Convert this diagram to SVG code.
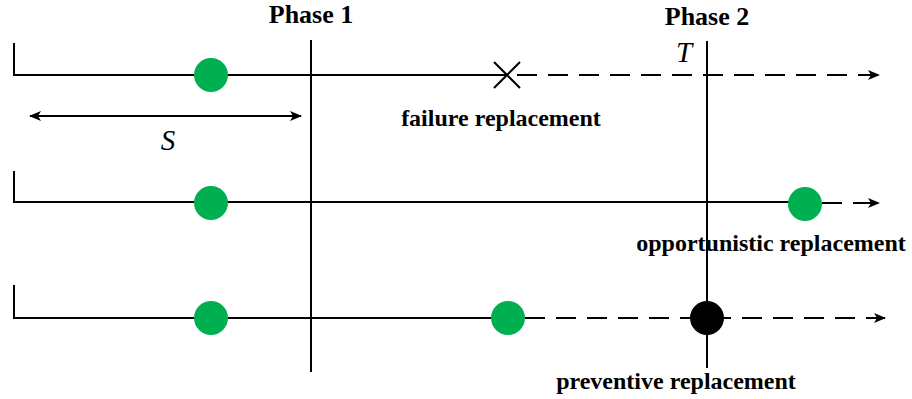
<svg xmlns="http://www.w3.org/2000/svg" width="912" height="399" viewBox="0 0 912 399">
  <style>
    .ln { stroke: #000; stroke-width: 2; fill: none; }
    .dash { stroke: #000; stroke-width: 2; fill: none; stroke-dasharray: 20 11; }
    .good { fill: #00b050; }
    .lbl { font-family: "Liberation Serif", "Times New Roman", serif; font-weight: bold; font-size: 24px; fill: #000; }
    .ph { font-family: "Liberation Serif", "Times New Roman", serif; font-weight: bold; font-size: 26px; fill: #000; }
    .sym { font-family: "Liberation Serif", "Times New Roman", serif; font-style: italic; font-size: 29px; fill: #000; }
  </style>
  <defs>
    <marker id="arr" viewBox="0 0 12 10" refX="11" refY="5" markerWidth="12" markerHeight="10" markerUnits="userSpaceOnUse" orient="auto-start-reverse">
      <path d="M0,0 L12,5 L0,10 L3,5 Z" fill="#000"/>
    </marker>
  </defs>
  <rect width="912" height="399" fill="#fff"/>

  <g id="phase-lines">
    <line class="ln" x1="311" y1="40" x2="311" y2="372"/>
    <line class="ln" x1="707" y1="41" x2="707" y2="368"/>
    <text class="ph" x="311" y="23" text-anchor="middle">Phase 1</text>
    <text class="ph" x="707" y="25" text-anchor="middle">Phase 2</text>
    <text class="sym" x="684" y="62" text-anchor="middle">T</text>
  </g>

  <g id="connectors">
    <!-- component 1: failure, then dashed -->
    <path class="ln" d="M14,43 V75 H507"/>
    <line class="dash" x1="517" y1="75" x2="879" y2="75" marker-end="url(#arr)"/>
    <!-- component 2: opportunistic -->
    <path class="ln" d="M14,171 V202 H805"/>
    <line class="dash" x1="822" y1="203" x2="879" y2="203" marker-end="url(#arr)"/>
    <!-- component 3: preventive -->
    <path class="ln" d="M14,285 V318 H508"/>
    <line class="dash" x1="525" y1="318" x2="885" y2="318" marker-end="url(#arr)"/>
    <!-- interval S -->
    <line class="ln" x1="30" y1="116" x2="301" y2="116" marker-start="url(#arr)" marker-end="url(#arr)"/>
  </g>

  <g id="interval-S">
    <text class="sym" x="168" y="150" text-anchor="middle">S</text>
  </g>

  <g id="row1">
    <circle class="good" cx="211" cy="75" r="17"/>
    <path class="ln" d="M494,62 L520,88 M520,62 L494,88"/>
    <text class="lbl" x="501" y="126" text-anchor="middle">failure replacement</text>
  </g>

  <g id="row2">
    <circle class="good" cx="211" cy="203" r="17"/>
    <circle class="good" cx="805" cy="204" r="17"/>
    <text class="lbl" x="771" y="251" text-anchor="middle">opportunistic replacement</text>
  </g>

  <g id="row3">
    <circle class="good" cx="211" cy="318" r="17"/>
    <circle class="good" cx="508" cy="318" r="17"/>
    <circle cx="707" cy="318" r="17" fill="#000"/>
    <text class="lbl" x="676" y="389" text-anchor="middle">preventive replacement</text>
  </g>
</svg>
